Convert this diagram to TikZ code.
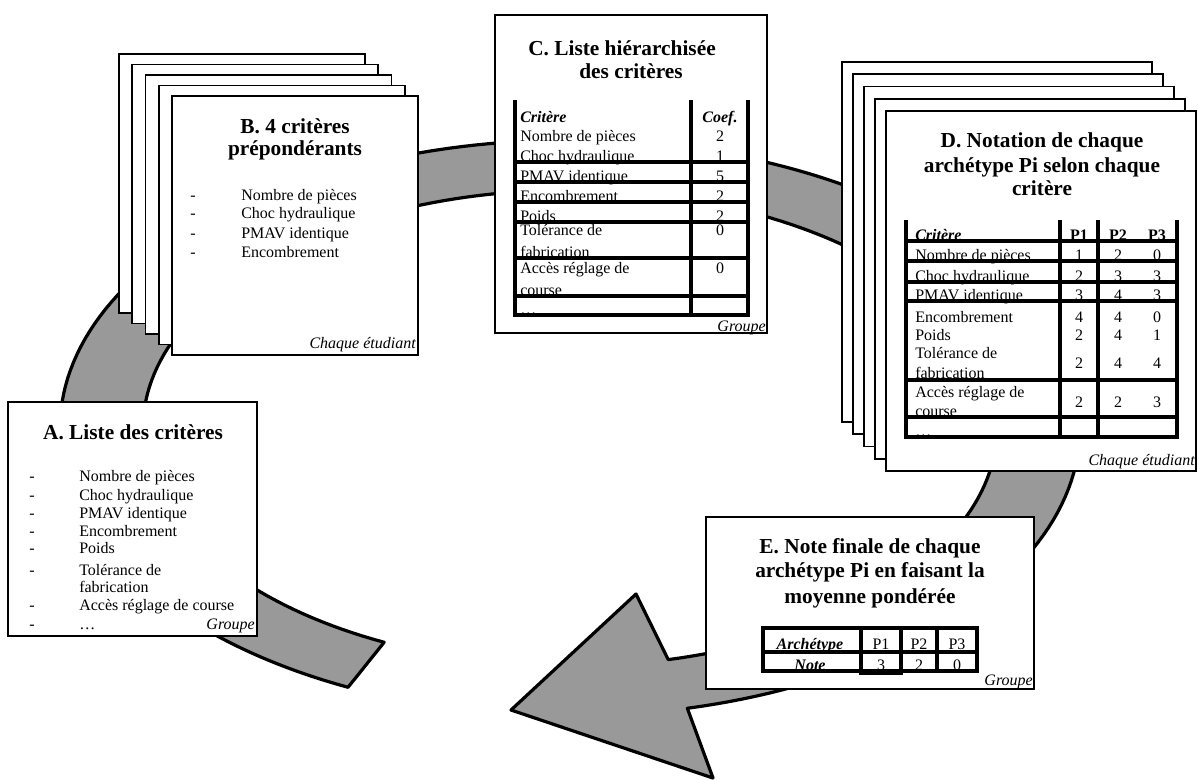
\documentclass[tikz,border=0pt]{standalone}
\usepackage{fontspec}
\setmainfont{Liberation Serif}
\definecolor{ringgray}{RGB}{153,153,153}
\tikzset{
  ring/.style={fill=ringgray, draw=black, line width=2.4pt, line join=round},
  card/.style={draw=black, fill=white, line width=1.4pt},
  ttl/.style={font=\fontsize{16}{19}\selectfont\bfseries, inner sep=0pt, anchor=base},
  txt/.style={font=\fontsize{12}{14}\selectfont, inner sep=0pt, anchor=base west},
  num/.style={font=\fontsize{12}{14}\selectfont, inner sep=0pt, anchor=base},
  hdr/.style={font=\fontsize{12}{14}\selectfont\bfseries\itshape, inner sep=0pt, anchor=base},
  hbold/.style={font=\fontsize{12}{14}\selectfont\bfseries, inner sep=0pt, anchor=base},
  who/.style={font=\fontsize{12}{14}\selectfont\itshape, inner sep=0pt, anchor=base east},
  tline/.style={line width=2.7pt, line cap=rect},
}
\begin{document}
\begin{tikzpicture}[x=0.75pt, y=-0.75pt]
\useasboundingbox (0,0) rectangle (1198,779);

% circular arrow band
\draw[ring] plot[domain=115.8:436.7, samples=200] ({570+510*cos(\x)},{428+288*sin(\x)})
  -- (713,778) -- (511,710) -- (636,594)
  -- plot[domain=436.7:115.8, samples=200] ({570+427*cos(\x)},{428+238*sin(\x)}) -- cycle;

% ---------- A ----------
\draw[card] (8,402) rectangle (257,636);
\node[ttl] (Atitle) at (133,439) {A. Liste des critères};
\foreach \y [count=\i] in {481,500,518,536,553,575,610,629}
  \node[txt] (Adash\i) at (29,\y) {-};
\foreach \y/\t [count=\i] in {481/Nombre de pièces, 500/Choc hydraulique, 518/PMAV identique, 536/Encombrement, 553/Poids, 575/Tolérance de, 592/fabrication, 610/Accès réglage de course, 629/…}
  \node[txt] (Aitem\i) at (79,\y) {\t};
\node[who] (Agroup) at (255,629) {Groupe};

% ---------- B ----------
\foreach \k in {0,...,4}
  \draw[card] ({119+13.25*\k},{54+10.5*\k}) rectangle ++(246,259);
\node[ttl] (Btitle1) at (295,133) {B. 4 critères};
\node[ttl] (Btitle2) at (295,155) {prépondérants};
\foreach \y/\t [count=\i] in {200/Nombre de pièces, 218/Choc hydraulique, 238/PMAV identique, 257/Encombrement}{
  \node[txt] (Bdash\i) at (190,\y) {-};
  \node[txt] (Bitem\i) at (241,\y) {\t};
}
\node[who] (Bwho) at (416,348) {Chaque étudiant};

% ---------- C ----------
\draw[card] (495,15) rectangle (767,333);
\node[ttl] (Ctitle1) at (622,55) {C. Liste hiérarchisée};
\node[ttl] (Ctitle2) at (631,78) {des critères};
\node[hdr, anchor=base west] (Chead1) at (520,122) {Critère};
\node[hdr] (Chead2) at (720,122) {Coef.};
\foreach \y/\t [count=\i] in {141/Nombre de pièces, 161/Choc hydraulique, 181/PMAV identique, 201/Encombrement, 221/Poids, 235/Tolérance de, 257/fabrication, 273/Accès réglage de, 295/course, 314/…}
  \node[txt] (Crow\i) at (520,\y) {\t};
\foreach \y/\v [count=\i] in {141/2, 161/1, 181/5, 201/2, 221/2, 235/0, 273/0}
  \node[num] (Cval\i) at (720,\y) {\v};
\foreach \x in {515,691,748} \draw[tline] (\x,102) -- (\x,315);
\foreach \y in {162,182,202,222,258,296,315} \draw[tline] (515,\y) -- (748,\y);
\node[who] (Cgroup) at (766,331) {Groupe};

% ---------- D ----------
\foreach \k in {0,...,4}
  \draw[card] ({842+11*\k},{62+12.25*\k}) rectangle ++(310,360);
\node[ttl] (Dtitle1) at (1042,147) {D. Notation de chaque};
\node[ttl] (Dtitle2) at (1042,172) {archétype Pi selon chaque};
\node[ttl] (Dtitle3) at (1042,195) {critère};
\node[hdr, anchor=base west] (Dhead0) at (915,240) {Critère};
\node[hbold] (Dhead1) at (1079,240) {P1};
\node[hbold] (Dhead2) at (1118,240) {P2};
\node[hbold] (Dhead3) at (1157,240) {P3};
\foreach \y/\t [count=\i] in {260/Nombre de pièces, 281/Choc hydraulique, 300/PMAV identique, 322/Encombrement, 340/Poids, 358/Tolérance de, 378/fabrication, 397/Accès réglage de, 416/course, 436/…}
  \node[txt] (Drow\i) at (915,\y) {\t};
\foreach \y/\a/\b/\c [count=\i] in {260/1/2/0, 281/2/3/3, 300/3/4/3, 322/4/4/0, 340/2/4/1, 368/2/4/4, 407/2/2/3}{
  \node[num] (DvalA\i) at (1079,\y) {\a};
  \node[num] (DvalB\i) at (1118,\y) {\b};
  \node[num] (DvalC\i) at (1157,\y) {\c};
}
\foreach \x in {906,1060,1098,1177} \draw[tline] (\x,222) -- (\x,437);
\foreach \y in {241,261,282,301,380,417,437} \draw[tline] (906,\y) -- (1177,\y);
\node[who] (Dwho) at (1195,465) {Chaque étudiant};

% ---------- E ----------
\draw[card] (706,517) rectangle (1034,689);
\node[ttl] (Etitle1) at (870,553) {E. Note finale de chaque};
\node[ttl] (Etitle2) at (870,577) {archétype Pi en faisant la};
\node[ttl] (Etitle3) at (870,603) {moyenne pondérée};
\node[hdr] (Ehead1) at (810,649) {Archétype};
\node[hdr] (Ehead2) at (810,670) {Note};
\foreach \x/\p/\v [count=\i] in {881/P1/3, 919/P2/2, 957/P3/0}{
  \node[num] (Ep\i) at (\x,649) {\p};
  \node[num] (Ev\i) at (\x,670) {\v};
}
\draw[tline] (763,628) rectangle (977,671);
\draw[tline] (763,652) -- (977,652);
\draw[tline] (937,628) -- (937,671);
\draw[line width=3.3pt] (861,628) rectangle (901,673);
\node[who] (Egroup) at (1033,685) {Groupe};
\end{tikzpicture}
\end{document}
